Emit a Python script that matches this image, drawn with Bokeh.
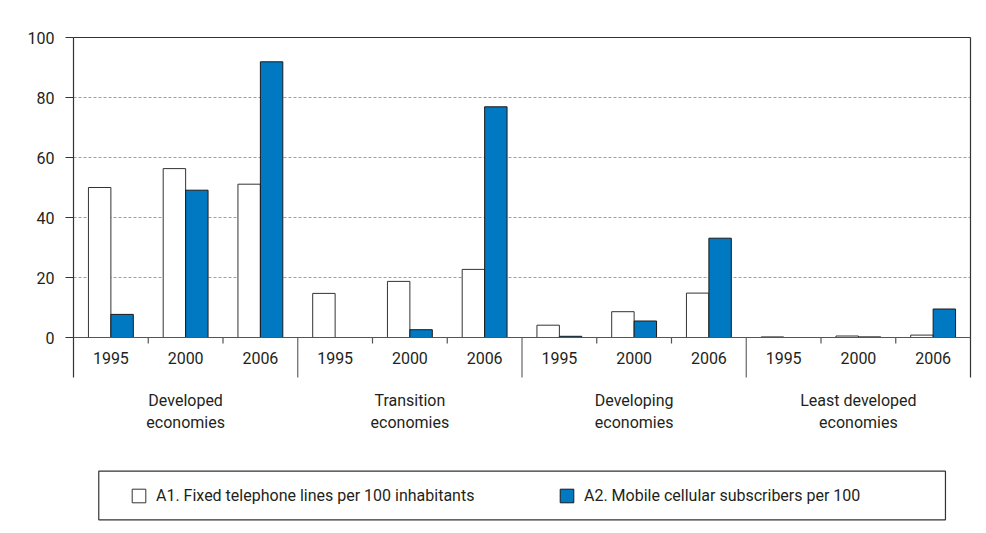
import numpy as np
from bokeh.plotting import figure
from bokeh.models import (ColumnDataSource, Range1d, FixedTicker, LinearAxis, Span,
                          Legend, LegendItem, BoxAnnotation)
from bokeh.core.properties import value
from bokeh.embed import file_html
from bokeh.resources import INLINE

# ---------------- data ----------------
groups = ["Developed\neconomies", "Transition\neconomies",
          "Developing\neconomies", "Least developed\neconomies"]
years = ["1995", "2000", "2006"]
fixed_lines = [50.0, 56.3, 51.1, 14.7, 18.7, 22.7, 4.1, 8.6, 14.8, 0.2, 0.5, 0.8]
mobile_subs = [7.7, 49.1, 91.9, 0.0, 2.6, 76.9, 0.4, 5.5, 33.1, 0.0, 0.2, 9.5]
y_ticks = [0, 20, 40, 60, 80, 100]
series_names = ["A1. Fixed telephone lines per 100 inhabitants",
                "A2. Mobile cellular subscribers per 100"]

FONT = value("Roboto")
TXT = "#231f20"
AX = "#333333"
BLUE = "#0079c2"
FRAME_BLUE = "#dbe5f1"

n_groups = len(groups)
n_years = len(years)
n = n_groups * n_years
centers = np.arange(n) + 0.5
bar_w = 0.3

src = ColumnDataSource(dict(
    xf=centers - bar_w / 2, xm=centers + bar_w / 2,
    fixed=fixed_lines, mobile=mobile_subs,
))

p = figure(width=986, height=533, output_backend="svg", toolbar_location=None,
           x_range=Range1d(0, n), y_range=Range1d(-65.333, 100),
           x_axis_location="above", y_axis_location="left",
           min_border_left=73, min_border_right=16, min_border_top=37, min_border_bottom=0)
p.outline_line_color = None
p.background_fill_color = "white"
p.border_fill_color = "white"

# light-blue page strips (left and top), in canvas pixels
p.add_layout(BoxAnnotation(left=0, right=8, top=0, bottom=533,
                           left_units="canvas", right_units="canvas",
                           top_units="canvas", bottom_units="canvas",
                           fill_color=FRAME_BLUE, fill_alpha=1, line_color=None))
p.add_layout(BoxAnnotation(left=0, right=986, top=0, bottom=5,
                           left_units="canvas", right_units="canvas",
                           top_units="canvas", bottom_units="canvas",
                           fill_color=FRAME_BLUE, fill_alpha=1, line_color=None))

# top border (axis line only)
xa = p.xaxis[0]
xa.ticker = FixedTicker(ticks=[])
xa.major_label_text_font_size = "0px"
xa.major_tick_out = 0
xa.major_label_standoff = 0
xa.axis_line_color = AX
xa.axis_line_width = 1.2

# left axis
ya = p.yaxis[0]
ya.ticker = FixedTicker(ticks=y_ticks)
ya.bounds = (-13.333, 100)
ya.major_tick_out = 8
ya.major_tick_in = 0
ya.minor_tick_line_color = None
ya.major_tick_line_color = AX
ya.axis_line_color = AX
ya.axis_line_width = 1.2
ya.major_label_standoff = 11
ya.major_label_text_font = "Roboto"
ya.major_label_text_font_size = "16px"
ya.major_label_text_color = TXT

# right border
ra = LinearAxis(ticker=FixedTicker(ticks=[]), bounds=(-13.333, 100),
                major_label_text_font_size="0px", major_tick_out=0,
                major_label_standoff=0, axis_line_color=AX, axis_line_width=1.2)
p.add_layout(ra, "right")

# grid
p.xgrid.visible = False
p.ygrid.ticker = FixedTicker(ticks=[t for t in y_ticks if 0 < t < 100])
p.ygrid.grid_line_color = "#a0a0a0"
p.ygrid.grid_line_dash = "3 2"
p.ygrid.grid_line_width = 1

# bars
r1 = p.vbar(x="xf", top="fixed", width=bar_w, bottom=0, source=src,
            fill_color="white", line_color=AX, line_width=1)
r2 = p.vbar(x="xm", top="mobile", width=bar_w, bottom=0, source=src,
            fill_color=BLUE, line_color="#1a1a1a", line_width=1)

# zero line
p.add_layout(Span(location=0, dimension="width", line_color="#555555", line_width=1.2))

# x-axis ticks between years and group separators
minor_b = [i for i in range(1, n) if i % n_years != 0]
major_b = [i for i in range(1, n) if i % n_years == 0]
p.segment(x0=minor_b, x1=minor_b, y0=[0] * len(minor_b), y1=[-2] * len(minor_b),
          line_color="#555555", line_width=1.2)
p.segment(x0=major_b, x1=major_b, y0=[0] * len(major_b), y1=[-13.333] * len(major_b),
          line_color="#666666", line_width=1.2)

# year labels
p.text(x=list(centers), y=[-6.8] * n, text=years * n_groups,
       text_font=FONT, text_font_size="16px", text_color=TXT,
       text_align="center", text_baseline="alphabetic")

# group labels (two lines)
g_centers = [n_years * g + n_years / 2 for g in range(n_groups)]
line1 = [g.split("\n")[0] for g in groups]
line2 = [g.split("\n")[1] for g in groups]
p.text(x=g_centers, y=[-21.0] * n_groups, text=line1,
       text_font=FONT, text_font_size="16px", text_color=TXT,
       text_align="center", text_baseline="alphabetic")
p.text(x=g_centers, y=[-28.2] * n_groups, text=line2,
       text_font=FONT, text_font_size="16px", text_color=TXT,
       text_align="center", text_baseline="alphabetic")

# legend box
p.quad(left=[0.338], right=[11.665], top=[-44.57], bottom=[-60.77],
       fill_color="white", line_color=AX, line_width=1.2)

legend = Legend(items=[LegendItem(label=series_names[0], renderers=[r1]),
                       LegendItem(label=series_names[1], renderers=[r2])],
                orientation="horizontal", location=(57, 28),
                padding=0, margin=0, spacing=62,
                glyph_width=17, glyph_height=17, label_standoff=9,
                label_width=340, label_height=17,
                border_line_color=None, background_fill_alpha=0,
                label_text_font="Roboto", label_text_font_size="16px",
                label_text_color=TXT)
p.add_layout(legend)

open("out.html", "w").write(file_html(p, INLINE))
